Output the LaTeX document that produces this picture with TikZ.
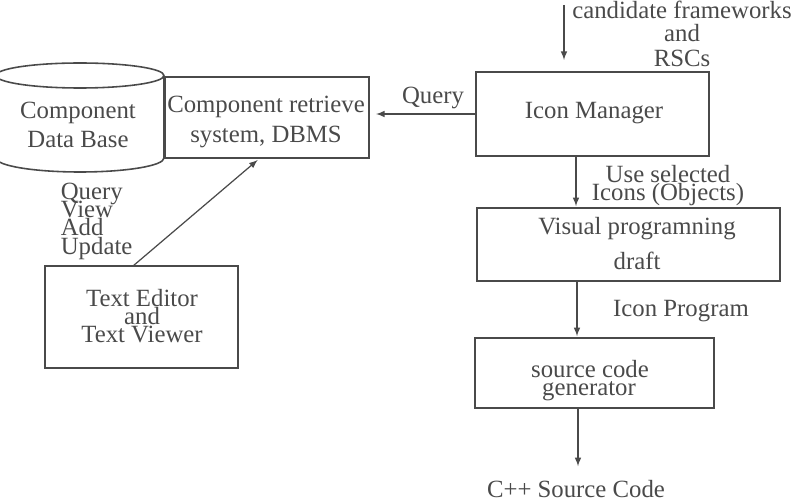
\documentclass[tikz,border=0pt]{standalone}
\usepackage{fontspec}
\setmainfont{Liberation Serif}
\usetikzlibrary{arrows,positioning}
\definecolor{inkgray}{HTML}{4A4A4A}
\tikzset{arr/.style={draw=inkgray, -latex, line width=0.7pt, shorten >=1pt},
    blockbox/.style={draw=inkgray, line width=1.1pt, inner sep=0pt, outer sep=0pt},
    lab/.style={text=inkgray, inner sep=0pt, yshift=-0.09cm, font=\fontsize{14.1}{14.1}\selectfont, text height=1.45ex, text depth=.4ex}}

\begin{document}
\begin{tikzpicture}
        \useasboundingbox (0,0) rectangle (15.82,9.98);
        % left side
        \draw[inkgray, line width=0.9pt] (3.28,8.47) arc (0:360:1.68 and 0.25);
        \draw[inkgray, line width=0.9pt] (3.28,8.47) -- (3.28,6.82) arc (0:-180:1.68 and 0.28) -- (-0.08,8.47);
        \node[lab] (db1) at (1.56,7.78) {Component};
        \node[lab] (db2) at (1.56,7.20) {Data Base};
        \node[blockbox, minimum width=4.08cm, minimum height=1.62cm] (retrieve) at (5.34,7.63) {};
        \node[lab] (ret1) at (5.32,7.90) {Component retrieve};
        \node[lab] (ret2) at (5.32,7.30) {system, DBMS};
        \node[lab, anchor=west] (op1) at (1.21,6.16) {Query};
        \node[lab, anchor=west] (op2) at (1.21,5.80) {View};
        \node[lab, anchor=west] (op3) at (1.21,5.44) {Add};
        \node[lab, anchor=west] (op4) at (1.21,5.06) {Update};
        \node[blockbox, minimum width=3.86cm, minimum height=2.04cm] (editor) at (2.83,3.64) {};
        \node[lab] (ed1) at (2.84,4.02) {Text Editor};
        \node[lab] (ed2) at (2.84,3.66) {and};
        \node[lab] (ed3) at (2.84,3.30) {Text Viewer};
        % right side
        \node[lab] (cand1) at (13.64,9.78) {candidate frameworks};
        \node[lab] (cand2) at (13.64,9.32) {and};
        \node[lab] (cand3) at (13.64,8.82) {RSCs};
        \node[blockbox, minimum width=4.66cm, minimum height=1.68cm] (manager) at (11.85,7.70) {};
        \node[lab] (mgr) at (11.88,7.78) {Icon Manager};
        \node[lab] (query) at (8.66,8.08) {Query};
        \node[lab] (use1) at (13.36,6.50) {Use selected};
        \node[lab] (use2) at (13.36,6.14) {Icons (Objects)};
        \node[blockbox, minimum width=6.06cm, minimum height=1.46cm] (visual) at (12.57,5.09) {};
        \node[lab] (vis1) at (12.74,5.46) {Visual programning};
        \node[lab] (vis2) at (12.74,4.76) {draft};
        \node[lab] (prog) at (13.62,3.82) {Icon Program};
        \node[blockbox, minimum width=4.78cm, minimum height=1.40cm] (source) at (11.89,2.52) {};
        \node[lab] (src1) at (11.80,2.60) {source code};
        \node[lab] (src2) at (11.78,2.24) {generator};
        \node[lab] (cpp) at (11.52,0.20) {C++ Source Code};
        % connectors
        \coordinate (candin) at (11.28,9.88);
        \draw[arr, shorten >=0.24cm] (candin) -- (candin |- manager.north);
        \draw[arr, shorten >=0.14cm] (manager.west) -- (manager.west -| retrieve.east);
        \draw[arr] ([xshift=-0.33cm]manager.south) -- ([xshift=-0.33cm]manager.south |- visual.north);
        \draw[arr] ([xshift=-1.03cm]visual.south) -- ([xshift=-1.03cm]visual.south |- source.north);
        \coordinate (cppin) at (11.56,0.62);
        \draw[arr] (cppin |- source.south) -- (cppin);
        \draw[arr, shorten >=0.06cm] ([xshift=-0.17cm]editor.north) -- ([xshift=-0.14cm]retrieve.south);
\end{tikzpicture}
\end{document}
